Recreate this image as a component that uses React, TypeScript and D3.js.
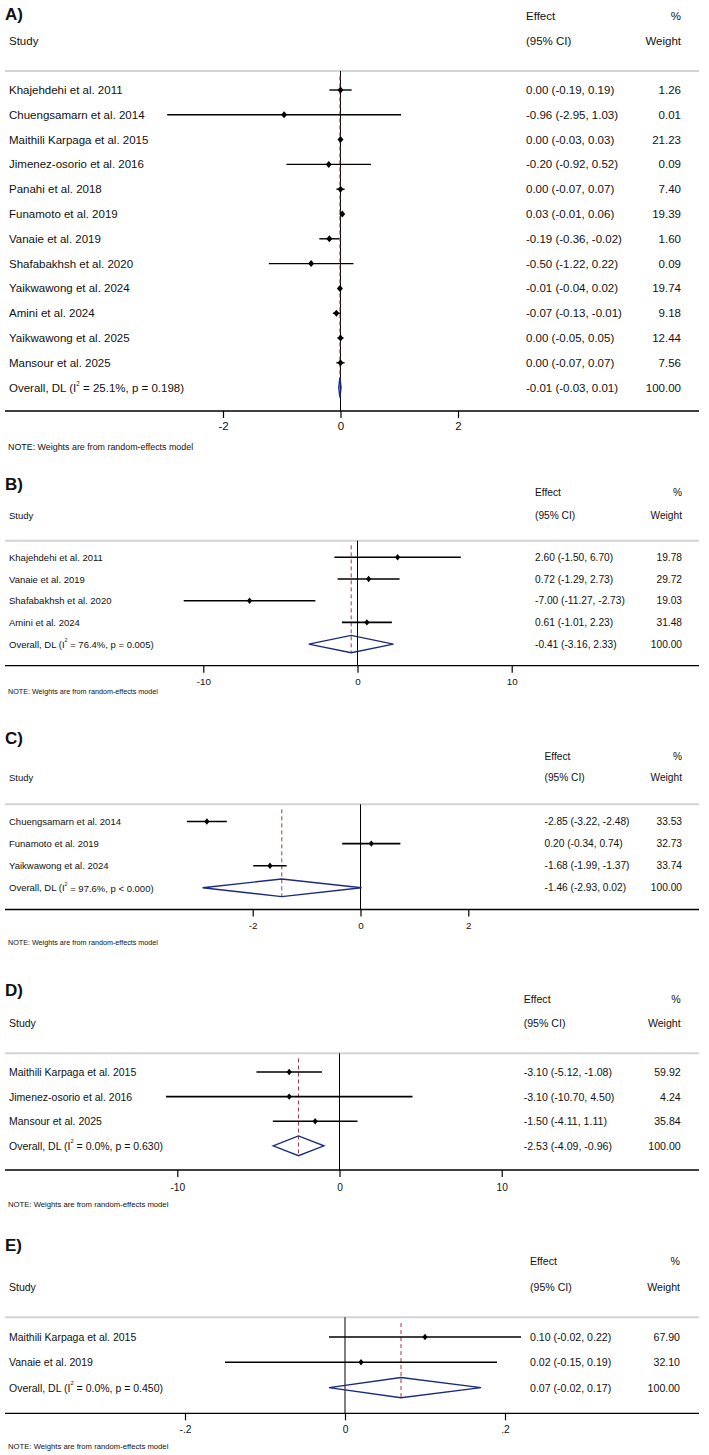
import React, { useRef, useEffect } from 'react';
import * as d3 from 'd3';

const W = 709;
const H = 1455;
const FONT = '"Liberation Sans", Arial, Helvetica, sans-serif';

// A) pooled effect, all studies
const studiesA = [
  'Khajehdehi et al. 2011', 'Chuengsamarn et al. 2014', 'Maithili Karpaga et al. 2015',
  'Jimenez-osorio et al. 2016', 'Panahi et al. 2018', 'Funamoto et al. 2019', 'Vanaie et al. 2019',
  'Shafabakhsh et al. 2020', 'Yaikwawong et al. 2024', 'Amini et al. 2024', 'Yaikwawong et al. 2025',
  'Mansour et al. 2025',
];
const estA = [0.00, -0.96, 0.00, -0.20, 0.00, 0.03, -0.19, -0.50, -0.01, -0.07, 0.00, 0.00];
const loA = [-0.19, -2.95, -0.03, -0.92, -0.07, -0.01, -0.36, -1.22, -0.04, -0.13, -0.05, -0.07];
const hiA = [0.19, 1.03, 0.03, 0.52, 0.07, 0.06, -0.02, 0.22, 0.02, -0.01, 0.05, 0.07];
const weightA = [1.26, 0.01, 21.23, 0.09, 7.40, 19.39, 1.60, 0.09, 19.74, 9.18, 12.44, 7.56];
const overallA = [-0.01, -0.03, 0.01];
const hetA = ['25.1%', 'p = 0.198'];
const ticksA = [-2, 0, 2];
const tickLabelsA = ['-2', '0', '2'];

// B)
const studiesB = ['Khajehdehi et al. 2011', 'Vanaie et al. 2019', 'Shafabakhsh et al. 2020', 'Amini et al. 2024'];
const estB = [2.60, 0.72, -7.00, 0.61];
const loB = [-1.50, -1.29, -11.27, -1.01];
const hiB = [6.70, 2.73, -2.73, 2.23];
const weightB = [19.78, 29.72, 19.03, 31.48];
const overallB = [-0.41, -3.16, 2.33];
const hetB = ['76.4%', 'p = 0.005'];
const ticksB = [-10, 0, 10];
const tickLabelsB = ['-10', '0', '10'];

// C)
const studiesC = ['Chuengsamarn et al. 2014', 'Funamoto et al. 2019', 'Yaikwawong et al. 2024'];
const estC = [-2.85, 0.20, -1.68];
const loC = [-3.22, -0.34, -1.99];
const hiC = [-2.48, 0.74, -1.37];
const weightC = [33.53, 32.73, 33.74];
const overallC = [-1.46, -2.93, 0.02];
const hetC = ['97.6%', 'p < 0.000'];
const ticksC = [-2, 0, 2];
const tickLabelsC = ['-2', '0', '2'];

// D)
const studiesD = ['Maithili Karpaga et al. 2015', 'Jimenez-osorio et al. 2016', 'Mansour et al. 2025'];
const estD = [-3.10, -3.10, -1.50];
const loD = [-5.12, -10.70, -4.11];
const hiD = [-1.08, 4.50, 1.11];
const weightD = [59.92, 4.24, 35.84];
const overallD = [-2.53, -4.09, -0.96];
const hetD = ['0.0%', 'p = 0.630'];
const ticksD = [-10, 0, 10];
const tickLabelsD = ['-10', '0', '10'];

// E)
const studiesE = ['Maithili Karpaga et al. 2015', 'Vanaie et al. 2019'];
const estE = [0.10, 0.02];
const loE = [-0.02, -0.15];
const hiE = [0.22, 0.19];
const weightE = [67.90, 32.10];
const overallE = [0.07, -0.02, 0.17];
const hetE = ['0.0%', 'p = 0.450'];
const ticksE = [-0.2, 0, 0.2];
const tickLabelsE = ['-.2', '0', '.2'];

const fmt = d3.formatLocale({ decimal: '.', thousands: ',', grouping: [3], currency: ['', ''], minus: '-' }).format('.2f');

const panels = [
  { label: 'A)', studies: studiesA, est: estA, lo: loA, hi: hiA, weight: weightA, overall: overallA, het: hetA,
    ticks: ticksA, tickLabels: tickLabelsA, range: [223, 458],
    titleY: 14, head1Y: 15.7, head2Y: 41, sepY: 71, row0: 90, step: 24.8, axisY: 411, tickY: 426, noteY: 446.7,
    effX: 526, wX: 681, fLabel: 11.5, fCol: 11.5, fTick: 11.5, fNote: 8.9, ciW: 1.4, mk: [3, 3.5] },
  { label: 'B)', studies: studiesB, est: estB, lo: loB, hi: hiB, weight: weightB, overall: overallB, het: hetB,
    ticks: ticksB, tickLabels: tickLabelsB, range: [203.3, 511.7],
    titleY: 484, head1Y: 492.7, head2Y: 515, sepY: 540.7, row0: 557.3, step: 21.7, axisY: 665.7, tickY: 682, noteY: 691.7,
    effX: 535, wX: 682, fLabel: 9.5, fCol: 10.2, fTick: 9.8, fNote: 7.2, ciW: 1.6, mk: [2.6, 3.2] },
  { label: 'C)', studies: studiesC, est: estC, lo: loC, hi: hiC, weight: weightC, overall: overallC, het: hetC,
    ticks: ticksC, tickLabels: tickLabelsC, range: [252.7, 468.3],
    titleY: 738.3, head1Y: 756, head2Y: 777.7, sepY: 804.3, row0: 821.5, step: 22.1, axisY: 909.5, tickY: 925.5, noteY: 942.3,
    effX: 544.5, wX: 682, fLabel: 9.5, fCol: 10.2, fTick: 9.8, fNote: 7.2, ciW: 1.6, mk: [2.6, 3.2] },
  { label: 'D)', studies: studiesD, est: estD, lo: loD, hi: hiD, weight: weightD, overall: overallD, het: hetD,
    ticks: ticksD, tickLabels: tickLabelsD, range: [177.3, 501.7],
    titleY: 990.7, head1Y: 999, head2Y: 1023.3, sepY: 1053.3, row0: 1072, step: 24.6, axisY: 1170, tickY: 1187, noteY: 1204,
    effX: 523.7, wX: 680.7, fLabel: 10.5, fCol: 10.6, fTick: 10.2, fNote: 7.7, ciW: 1.6, mk: [2.6, 3.2] },
  { label: 'E)', studies: studiesE, est: estE, lo: loE, hi: hiE, weight: weightE, overall: overallE, het: hetE,
    ticks: ticksE, tickLabels: tickLabelsE, range: [185, 505],
    titleY: 1245, head1Y: 1261, head2Y: 1286.7, sepY: 1317.3, row0: 1337, step: 25.3, axisY: 1413.3, tickY: 1430, noteY: 1446.7,
    effX: 530, wX: 680, fLabel: 10.5, fCol: 10.6, fTick: 10.2, fNote: 7.7, ciW: 1.6, mk: [2.6, 3.2] },
];

const LEFT = 5;
const RIGHT = 699;
const TEXT_X = 9;

function addText(g, x, y, str, size, anchor = 'start', weight = 'normal') {
  return g.append('text')
    .attr('x', x).attr('y', y)
    .attr('dominant-baseline', 'central')
    .attr('text-anchor', anchor)
    .attr('font-family', FONT)
    .attr('font-size', size)
    .attr('font-weight', weight)
    .attr('fill', '#111')
    .text(str);
}

function drawPanel(svg, p) {
  const g = svg.append('g');
  const n = p.studies.length;
  const x = d3.scaleLinear().domain([p.ticks[0], p.ticks[p.ticks.length - 1]]).range(p.range);
  const y = d3.scaleLinear().domain([0, n]).range([p.row0, p.row0 + n * p.step]);

  // headers
  addText(g, 5, p.titleY, p.label, 17, 'start', 'bold');
  addText(g, TEXT_X, p.head2Y, 'Study', p.fLabel);
  addText(g, p.effX, p.head1Y, 'Effect', p.fCol);
  addText(g, p.effX, p.head2Y, '(95% CI)', p.fCol);
  addText(g, p.wX, p.head1Y, '%', p.fCol, 'end');
  addText(g, p.wX, p.head2Y, 'Weight', p.fCol, 'end');

  g.append('line')
    .attr('x1', LEFT).attr('x2', RIGHT).attr('y1', p.sepY).attr('y2', p.sepY)
    .attr('stroke', '#d4d4d4').attr('stroke-width', 2);

  // null line
  g.append('line')
    .attr('x1', x(0)).attr('x2', x(0)).attr('y1', p.sepY).attr('y2', p.axisY)
    .attr('stroke', '#000').attr('stroke-width', 1);

  // pooled estimate line
  const [oEst, oLo, oHi] = p.overall;
  const dh = p.step * 0.4;
  g.append('line')
    .attr('x1', x(oEst)).attr('x2', x(oEst))
    .attr('y1', p.row0 - p.step * 0.55).attr('y2', y(n) + dh)
    .attr('stroke', '#a8343f').attr('stroke-width', 1)
    .attr('stroke-dasharray', '4,3');

  const rows = p.studies.map((s, i) => ({ name: s, est: p.est[i], lo: p.lo[i], hi: p.hi[i], w: p.weight[i] }));

  g.append('g').selectAll('line').data(rows).join('line')
    .attr('x1', d => x(d.lo)).attr('x2', d => x(d.hi))
    .attr('y1', (d, i) => y(i)).attr('y2', (d, i) => y(i))
    .attr('stroke', '#000').attr('stroke-width', p.ciW);

  const [mw, mh] = p.mk;
  g.append('g').selectAll('path').data(rows).join('path')
    .attr('d', (d, i) => `M${x(d.est)},${y(i) - mh}L${x(d.est) + mw},${y(i)}L${x(d.est)},${y(i) + mh}L${x(d.est) - mw},${y(i)}Z`)
    .attr('fill', '#000');

  // overall diamond
  const yo = y(n);
  g.append('path')
    .attr('d', `M${x(oLo)},${yo}L${x(oEst)},${yo - dh}L${x(oHi)},${yo}L${x(oEst)},${yo + dh}Z`)
    .attr('fill', 'none').attr('stroke', '#1b2a80').attr('stroke-width', 1.4);

  // text columns
  rows.forEach((d, i) => {
    addText(g, TEXT_X, y(i), d.name, p.fLabel);
    addText(g, p.effX, y(i), `${fmt(d.est)} (${fmt(d.lo)}, ${fmt(d.hi)})`, p.fCol);
    addText(g, p.wX, y(i), fmt(d.w), p.fCol, 'end');
  });

  const het = addText(g, TEXT_X, yo, 'Overall, DL (I', p.fLabel);
  const sup = p.fLabel * 0.42;
  het.append('tspan').attr('font-size', p.fLabel * 0.55).attr('dy', -sup).text('2');
  het.append('tspan').attr('dy', sup).text(` = ${p.het[0]}, ${p.het[1]})`);
  addText(g, p.effX, yo, `${fmt(oEst)} (${fmt(oLo)}, ${fmt(oHi)})`, p.fCol);
  addText(g, p.wX, yo, fmt(100), p.fCol, 'end');

  // x axis
  g.append('line')
    .attr('x1', LEFT).attr('x2', RIGHT).attr('y1', p.axisY).attr('y2', p.axisY)
    .attr('stroke', '#000').attr('stroke-width', 1.3);

  const axis = d3.axisBottom(x)
    .tickValues(p.ticks)
    .tickFormat((d, i) => p.tickLabels[i])
    .tickSize(7);
  const ag = g.append('g').attr('transform', `translate(0,${p.axisY})`).call(axis);
  ag.select('.domain').remove();
  ag.selectAll('.tick line').attr('stroke', '#000').attr('stroke-width', 1.2);
  ag.selectAll('.tick text')
    .attr('y', p.tickY - p.axisY).attr('dy', null)
    .attr('dominant-baseline', 'central')
    .attr('font-family', FONT).attr('font-size', p.fTick).attr('fill', '#111');
  ag.attr('font-family', FONT).attr('font-size', p.fTick);

  addText(g, 8, p.noteY, 'NOTE: Weights are from random-effects model', p.fNote);
}

const App = () => {
  const ref = useRef(null);

  useEffect(() => {
    const svg = d3.select(ref.current);
    svg.selectAll('*').remove();
    svg.append('rect').attr('width', W).attr('height', H).attr('fill', '#fff');
    panels.forEach(p => drawPanel(svg, p));
  }, []);

  return (
    <svg ref={ref} width={W} height={H} style={{ position: 'absolute', left: 0, top: 0, display: 'block' }} />
  );
};

export default App;
